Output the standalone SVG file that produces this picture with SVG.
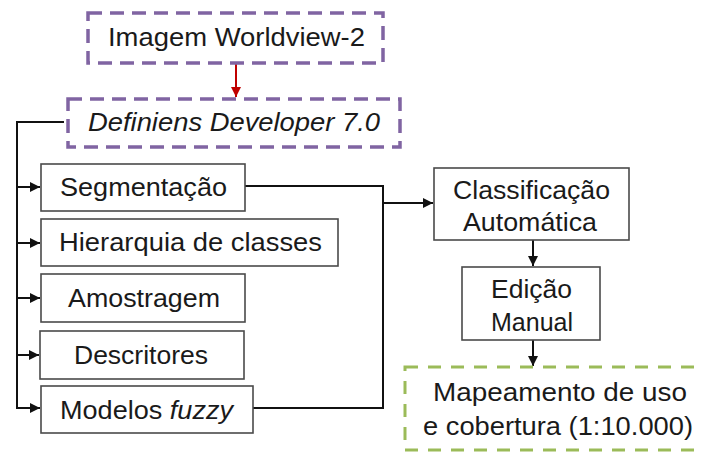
<svg xmlns="http://www.w3.org/2000/svg" width="704" height="453" viewBox="0 0 704 453">
<defs>
<marker id="ah" viewBox="0 0 10 10" refX="10" refY="5" markerWidth="5.5" markerHeight="5" orient="auto" markerUnits="strokeWidth"><path d="M0,0 L10,5 L0,10 z" fill="#111"/></marker>
<marker id="ahr" viewBox="0 0 10 10" refX="10" refY="5" markerWidth="5.5" markerHeight="5" orient="auto" markerUnits="strokeWidth"><path d="M0,0 L10,5 L0,10 z" fill="#c00000"/></marker>
<style>
.box{fill:#fff;stroke:#4a4a4a;stroke-width:1.6}
.pur{fill:#fff;stroke:#8064a2;stroke-width:3.5;stroke-dasharray:14 8}
.grn{fill:#fff;stroke:#9bbb59;stroke-width:3;stroke-dasharray:13 10}
.t{font-family:"Liberation Sans",Arial,sans-serif;font-size:26px;fill:#1a1a1a;text-anchor:middle}
.i{font-style:italic}
.c{fill:none;stroke:#111;stroke-width:2}
</style>
</defs>
<g id="connectors">
<line x1="236" y1="64" x2="236" y2="97" stroke="#c00000" stroke-width="2" marker-end="url(#ahr)"/>
<path class="c" d="M64,122 H17 V408 H40" marker-end="url(#ah)"/>
<line class="c" x1="17" y1="187" x2="40" y2="187" marker-end="url(#ah)"/>
<line class="c" x1="17" y1="243" x2="40" y2="243" marker-end="url(#ah)"/>
<line class="c" x1="17" y1="298" x2="40" y2="298" marker-end="url(#ah)"/>
<line class="c" x1="17" y1="355" x2="39" y2="355" marker-end="url(#ah)"/>
<path class="c" d="M245,186 H383 V408 H253"/>
<line class="c" x1="383" y1="203" x2="433" y2="203" marker-end="url(#ah)"/>
<line class="c" x1="533" y1="240" x2="533" y2="266" marker-end="url(#ah)"/>
<line class="c" x1="533" y1="340" x2="533" y2="366" marker-end="url(#ah)"/>
</g>
<g id="imagem">
<rect class="pur" x="88" y="13" width="295" height="50"/>
<text class="t" x="236.5" y="46" textLength="257" lengthAdjust="spacingAndGlyphs">Imagem Worldview-2</text>
</g>
<g id="definiens">
<rect class="pur" x="68" y="99" width="332" height="48"/>
<text class="t i" x="234" y="131" textLength="292" lengthAdjust="spacingAndGlyphs">Definiens Developer 7.0</text>
</g>
<g id="segmentacao">
<rect class="box" x="41" y="164" width="204" height="47"/>
<text class="t" x="143.5" y="196" textLength="167" lengthAdjust="spacingAndGlyphs">Segmentação</text>
</g>
<g id="hierarquia">
<rect class="box" x="41" y="219" width="297" height="47"/>
<text class="t" x="190.5" y="251" textLength="263" lengthAdjust="spacingAndGlyphs">Hierarquia de classes</text>
</g>
<g id="amostragem">
<rect class="box" x="41" y="274" width="204" height="48"/>
<text class="t" x="144" y="307" textLength="152" lengthAdjust="spacingAndGlyphs">Amostragem</text>
</g>
<g id="descritores">
<rect class="box" x="40" y="331" width="204" height="48"/>
<text class="t" x="141" y="364" textLength="134" lengthAdjust="spacingAndGlyphs">Descritores</text>
</g>
<g id="modelos">
<rect class="box" x="41" y="386" width="212" height="47"/>
<text class="t" x="146.5" y="419" textLength="173" lengthAdjust="spacingAndGlyphs">Modelos <tspan class="i">fuzzy</tspan></text>
</g>
<g id="classificacao">
<rect class="box" x="434" y="168" width="195" height="72"/>
<text class="t" x="531.5" y="199" textLength="157" lengthAdjust="spacingAndGlyphs">Classificação</text>
<text class="t" x="530" y="231" textLength="134" lengthAdjust="spacingAndGlyphs">Automática</text>
</g>
<g id="edicao">
<rect class="box" x="462" y="267" width="138" height="73"/>
<text class="t" x="531.5" y="298" textLength="81" lengthAdjust="spacingAndGlyphs">Edição</text>
<text class="t" x="532" y="331" textLength="82" lengthAdjust="spacingAndGlyphs">Manual</text>
</g>
<g id="mapeamento">
<rect class="grn" x="405" y="367" width="310" height="83"/>
<text class="t" x="560" y="401" textLength="254" lengthAdjust="spacingAndGlyphs">Mapeamento de uso</text>
<text class="t" x="558" y="435" textLength="270" lengthAdjust="spacingAndGlyphs">e cobertura (1:10.000)</text>
</g>
</svg>
